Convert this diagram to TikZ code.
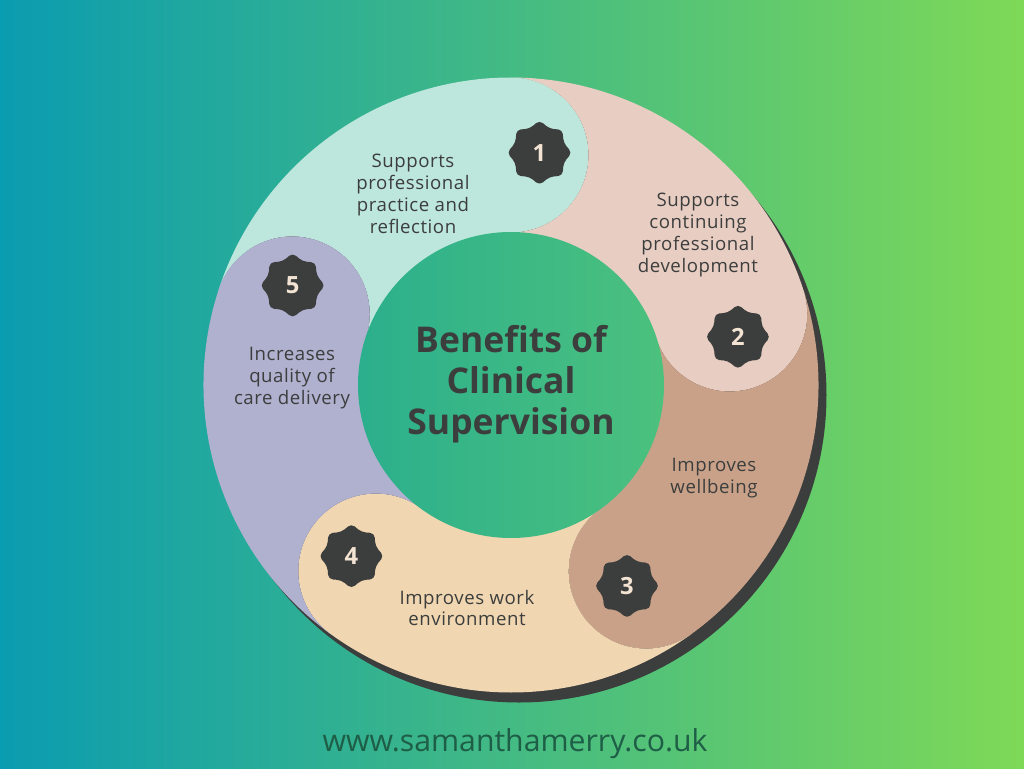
\documentclass[tikz,border=0pt]{standalone}
\usepackage{fontspec}
\setmainfont{Open Sans}
\usetikzlibrary{shapes.geometric, positioning}

\definecolor{bgleft}{HTML}{0A9CB0}
\definecolor{bgright}{HTML}{7ED957}
\definecolor{hubleft}{HTML}{2BAF8C}
\definecolor{hubright}{HTML}{4CC17E}
\definecolor{inkgray}{HTML}{3C3E3D}
\definecolor{mint}{HTML}{BDE6DC}
\definecolor{blush}{HTML}{E8CDC2}
\definecolor{clay}{HTML}{C9A189}
\definecolor{cream}{HTML}{F0D6B1}
\definecolor{lilac}{HTML}{B0B0CF}
\definecolor{badgetext}{HTML}{F3E3D3}
\definecolor{urlgreen}{HTML}{1E5E46}

\tikzset{
	bodytext/.style={font=\fontsize{10.6}{12.5}\selectfont\addfontfeatures{LetterSpace=3}, text=inkgray, align=center}
}
\tikzset{
	titletext/.style={font=\fontsize{20.2}{23.2}\selectfont\bfseries, text=inkgray, align=center}
}

\begin{document}
\begin{tikzpicture}[x=0.02cm, y=0.02cm]
			\tikzset{
				badge/.style={
						shape=star,
						star points=8,
						star point ratio=1.25,
						fill=inkgray,
						rounded corners=2.5pt,
						minimum size=37pt,
						inner sep=0pt,
						text=badgetext,
						font=\fontsize{13.5}{14}\selectfont\bfseries
					}
			}

			% background
			\shade[left color=bgleft, right color=bgright] (-511,-383) rectangle (513,385);
			\useasboundingbox (-511,-383) rectangle (513,385);

			% ring shadow
			\fill[inkgray] (8,-10) circle[radius=307.5];

			% ring segments
			\foreach \a/\b/\col in {162/90/mint, 90/18/blush, 18/-54/clay, -54/-126/cream, -126/-198/lilac}{
				\fill[\col] (\a:307.5) arc[start angle=\a, end angle=\b, radius=307.5]
					arc[start angle=\b, end angle=\b-180, radius=77.5]
					arc[start angle=\b, end angle=\a, radius=152.5]
					arc[start angle=\a-180, end angle=\a, radius=77.5] -- cycle;
			}

			% hub
			\shade[left color=hubleft, right color=hubright] (0,0) circle[radius=153];
			\node[titletext] (title) at (0,1) {Benefits of\\Clinical\\Supervision};

			\node[badge] (b1) at (83:234) {1};
			\node[badge] (b2) at (12:232) {2};
			\node[badge] (b3) at (-60:232) {3};
			\node[badge] (b4) at (-133:234) {4};
			\node[badge] (b5) at (155.5:240) {5};

			\node[bodytext] (t1) at (-98,191) {Supports\\professional\\practice and\\reflection};
			\node[bodytext] (t2) at (187,150) {Supports\\continuing\\professional\\development};
			\node[bodytext] (t3) at (203,-93) {Improves\\wellbeing};
			\node[bodytext] (t4) at (-44,-223) {Improves work\\environment};
			\node[bodytext] (t5) at (-219,7) {Increases\\quality of\\care delivery};

			\node[font=\fontsize{17.2}{20}\selectfont, text=urlgreen] (url) at (4,-359) {www.samanthamerry.co.uk};
		\end{tikzpicture}
\end{document}
